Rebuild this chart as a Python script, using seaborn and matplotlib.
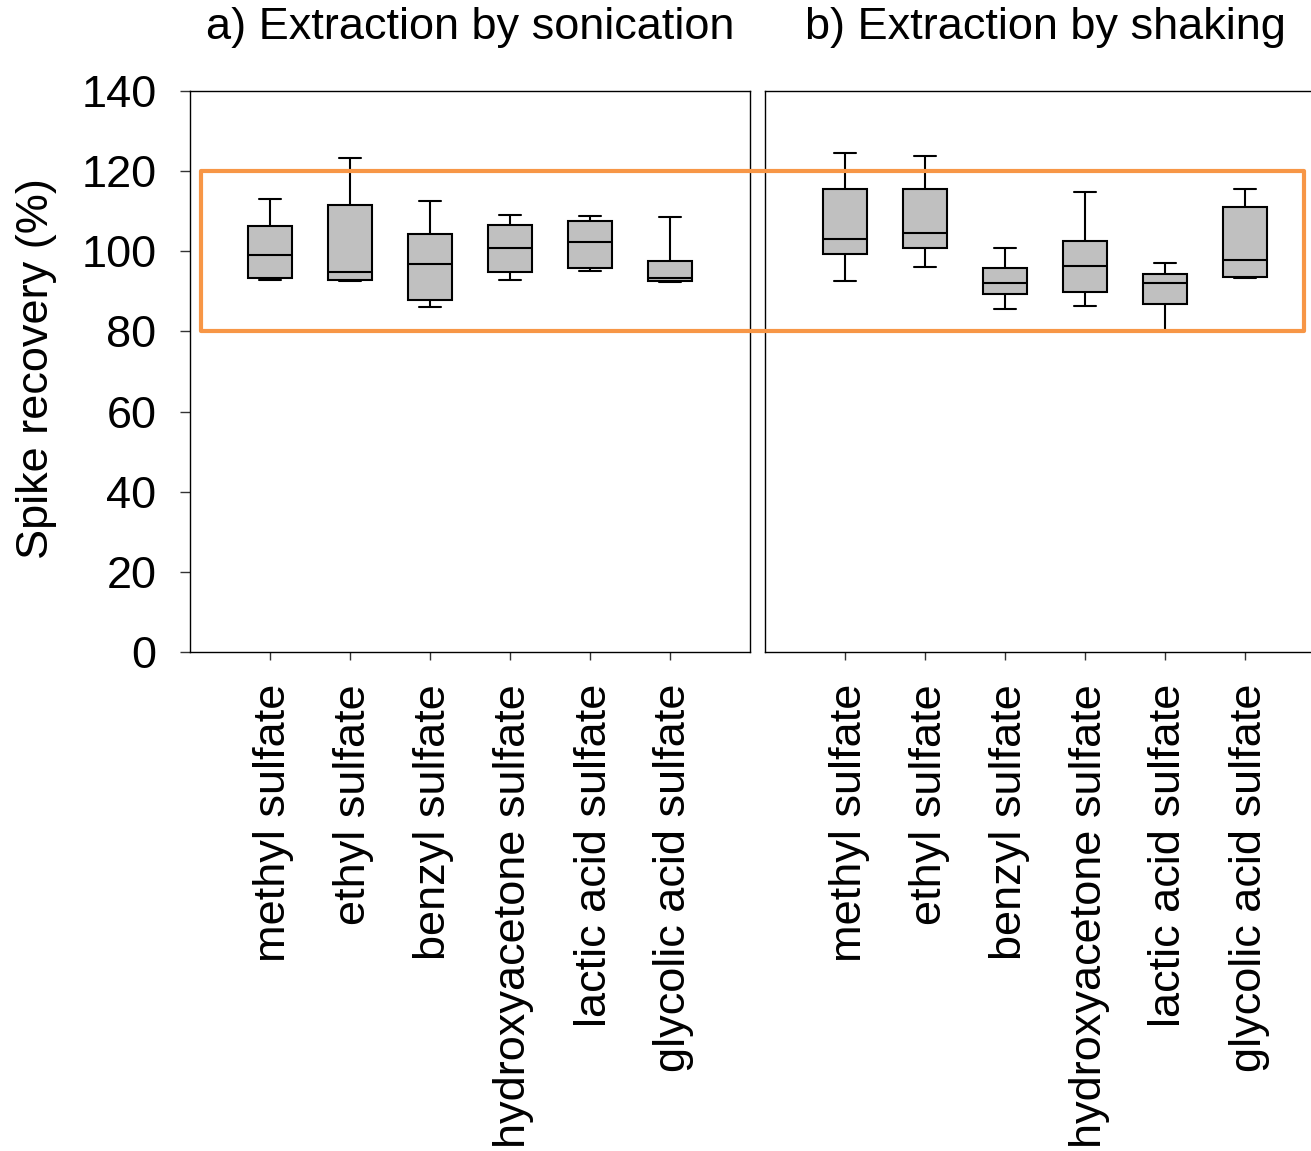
import pandas as pd
import numpy as np
import seaborn as sns
import matplotlib.pyplot as plt
from matplotlib.patches import Rectangle
from matplotlib.transforms import blended_transform_factory, ScaledTranslation

compounds = ['methyl sulfate', 'ethyl sulfate', 'benzyl sulfate',
             'hydroxyacetone sulfate', 'lactic acid sulfate', 'glycolic acid sulfate']

# five-number summaries: min, q1, median, q3, max
sonic_min = [92.8, 92.7, 86.2, 92.8, 95.0, 92.3]
sonic_q1 = [93.4, 92.8, 87.9, 94.9, 95.9, 92.5]
sonic_med = [99.0, 94.9, 96.9, 100.7, 102.2, 93.3]
sonic_q3 = [106.4, 111.5, 104.3, 106.6, 107.6, 97.7]
sonic_max = [113.0, 123.4, 112.6, 109.1, 108.8, 108.6]

shake_min = [92.5, 96.1, 85.6, 86.4, 80.2, 93.4]
shake_q1 = [99.4, 100.7, 89.3, 89.8, 86.8, 93.6]
shake_med = [103.1, 104.5, 92.1, 96.4, 92.0, 97.9]
shake_q3 = [115.5, 115.5, 95.9, 102.6, 94.4, 111.1]
shake_max = [124.5, 123.9, 100.8, 114.7, 97.1, 115.5]

y_ticks = [0, 20, 40, 60, 80, 100, 120, 140]


def long_table(mins, q1s, meds, q3s, maxs):
    rows = []
    for c, a, b, m, d, e in zip(compounds, mins, q1s, meds, q3s, maxs):
        for v in (a, b, m, d, e):
            rows.append({'compound': c, 'recovery': v})
    return pd.DataFrame(rows)


df_sonic = long_table(sonic_min, sonic_q1, sonic_med, sonic_q3, sonic_max)
df_shake = long_table(shake_min, shake_q1, shake_med, shake_q3, shake_max)

sns.set_style('ticks')
plt.rcParams['font.family'] = ['Liberation Sans', 'DejaVu Sans']
plt.rcParams['text.color'] = 'black'
plt.rcParams['axes.edgecolor'] = 'black'
plt.rcParams['axes.linewidth'] = 1.0

W, H = 1311, 1151
FS = 32.5
fig = plt.figure(figsize=(W / 100, H / 100), dpi=100)
ax1 = fig.add_axes([190 / W, 1 - 652 / H, 560 / W, 561 / H])
ax2 = fig.add_axes([765 / W, 1 - 652 / H, 547 / W, 561 / H])

box_kw = dict(x='compound', y='recovery', order=compounds, color='#c0c0c0',
              saturation=1, width=0.56, whis=(0, 100), linecolor='black',
              linewidth=1.5, fliersize=0)
sns.boxplot(data=df_sonic, ax=ax1, **box_kw)
sns.boxplot(data=df_shake, ax=ax2, **box_kw)

shift = ScaledTranslation(4 / 100, 0, fig.dpi_scale_trans)
for ax in (ax1, ax2):
    ax.set_ylim(0, 140)
    ax.set_yticks(y_ticks)
    ax.set_xlabel('')
    ax.set_ylabel('')
    for s in ax.spines.values():
        s.set_visible(True)
        s.set_color('black')
        s.set_linewidth(1.0)
    ax.tick_params(axis='x', direction='out', length=6, width=1, pad=17,
                   labelsize=FS, labelrotation=90, color='#333333',
                   labelcolor='black')
    ax.tick_params(axis='y', direction='out', length=7.2, width=1, pad=17,
                   labelsize=FS, color='#333333', labelcolor='black')
    for lab in ax.get_xticklabels():
        lab.set_transform(lab.get_transform() + shift)

ax1.set_xlim(-1, 6)
ax2.set_xlim(-1, 5.8375)
ax2.tick_params(axis='y', left=False, labelleft=False)

fig.text(470 / W, 1 - 39.5 / H, 'a) Extraction by sonication', fontsize=FS,
         ha='center', va='baseline')
fig.text(1045 / W, 1 - 39.5 / H, 'b) Extraction by shaking', fontsize=FS,
         ha='center', va='baseline')
fig.text(37 / W, 1 - 369 / H, 'Spike recovery (%)', fontsize=FS,
         rotation=90, ha='center', va='center')

# highlight band 80-120 % spanning both panels
tr = blended_transform_factory(fig.transFigure, ax1.transData)
rect = Rectangle((201 / W, 80), (1304 - 201) / W, 40, transform=tr,
                 fill=False, edgecolor='#F79646', linewidth=3.0,
                 joinstyle='round', clip_on=False, zorder=10)
fig.add_artist(rect)

fig.savefig('out.png', dpi=100)
